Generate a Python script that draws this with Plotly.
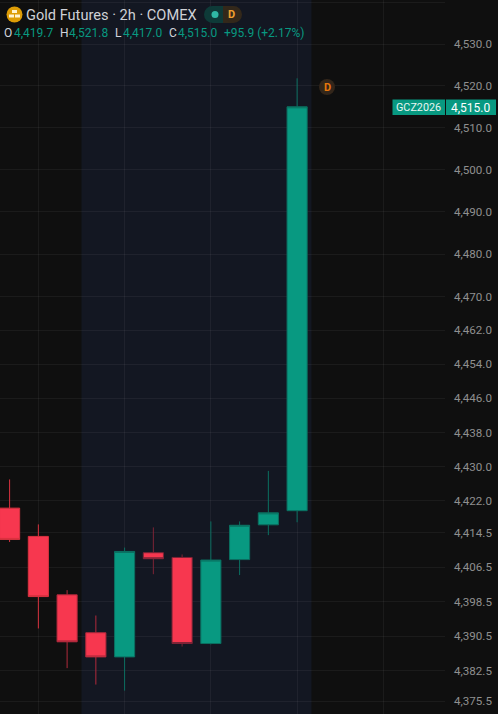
import math
import plotly.graph_objects as go

# ---- data ----
bars = list(range(11))
opens = [4420.3, 4413.7, 4400.1, 4391.3, 4385.7, 4409.9, 4408.8, 4388.8, 4408.3, 4416.4, 4419.7]
highs = [4427.0, 4416.5, 4401.2, 4395.3, 4411.1, 4415.8, 4409.5, 4417.2, 4417.2, 4429.0, 4521.8]
lows = [4412.4, 4392.3, 4383.1, 4379.3, 4377.9, 4404.9, 4388.1, 4388.6, 4404.7, 4414.0, 4417.0]
closes = [4413.0, 4399.7, 4389.2, 4385.7, 4410.2, 4408.5, 4388.8, 4408.2, 4416.3, 4419.2, 4515.0]
tick_values = [4540, 4530, 4520, 4510, 4500, 4490, 4480, 4470, 4462, 4454, 4446, 4438,
               4430, 4422, 4414.5, 4406.5, 4398.5, 4390.5, 4382.5, 4375.5]
tick_labels = ["", "4,530.0", "4,520.0", "4,510.0", "4,500.0", "4,490.0", "4,480.0", "4,470.0",
               "4,462.0", "4,454.0", "4,446.0", "4,438.0", "4,430.0", "4,422.0", "4,414.5",
               "4,406.5", "4,398.5", "4,390.5", "4,382.5", "4,375.5"]
grid_bars = [1, 4, 7, 10, 13]
session_start, session_end = 2.5, 10.5
title_text = "Gold Futures · 2h · COMEX"
symbol_text = "GCZ2026"
price_text = "4,515.0"
ohlc_parts = [("O", "4,419.7", 3.5, 14), ("H", "4,521.8", 59.5, 68.5), ("L", "4,417.0", 115, 122.5), ("C", "4,515.0", 169, 177.5)]
change_text = "+95.9 (+2.17%)"
wick_groups = [([0, 1], "#d8323f"), ([2, 3], "#b02a3c"), ([5, 6], "#7d2436"), ([4, 7, 8, 9, 10], "#0b6f60")]

W, H = 498, 714
PLOT_W = 445
BG = "#0f0f0f"
GREEN = "#089981"
RED = "#F7374F"
FONT = "Roboto"


def px(x):
    return x / PLOT_W


def py(y):
    return 1 - y / H


K = 18933.0
ytop = math.log10(4530) + (44 / K) / math.log(10)
ybot = math.log10(4530) - ((H - 44) / K) / math.log(10)
BAR_PX = 28.75
xleft = -9.6 / BAR_PX
xright = (PLOT_W - 9.6) / BAR_PX

fig = go.Figure()
for idx, color in wick_groups:
    fig.add_trace(go.Candlestick(
        x=[bars[i] for i in idx], open=[opens[i] for i in idx], high=[highs[i] for i in idx],
        low=[lows[i] for i in idx], close=[closes[i] for i in idx],
        increasing=dict(line=dict(color=color, width=1), fillcolor=GREEN),
        decreasing=dict(line=dict(color=color, width=1), fillcolor=RED),
        whiskerwidth=0, showlegend=False, hoverinfo="skip",
    ))

shapes = [dict(type="rect", xref="x", yref="paper", x0=session_start, x1=session_end, y0=0, y1=1,
               fillcolor="#131722", line_width=0, layer="below")]


def rect(x0, y0, x1, y1, color, layer="above"):
    shapes.append(dict(type="rect", xref="paper", yref="paper", x0=px(x0), x1=px(x1),
                       y0=py(y1), y1=py(y0), fillcolor=color, line_width=0, layer=layer))


def circle(cx, cy, r, color):
    shapes.append(dict(type="circle", xref="paper", yref="paper", x0=px(cx - r), x1=px(cx + r),
                       y0=py(cy + r), y1=py(cy - r), fillcolor=color, line_width=0, layer="above"))


circle(14.5, 14.5, 8, "#dd9c06")
rect(12, 10, 17, 13, "#fff3d0")
rect(9, 14.5, 14, 17.5, "#fff3d0")
rect(15, 14.5, 20, 17.5, "#fff3d0")
circle(212.5, 14.5, 8.5, "#0e3a38")
rect(212.5, 6, 223, 23, "#0e3a38")
rect(223, 6, 233.5, 23, "#33281a")
circle(233.5, 14.5, 8.5, "#33281a")
circle(215, 14.5, 3.5, "#2fb8a5")
circle(327, 87, 8, "#33261a")
rect(392.5, 99.5, 445, 115, GREEN)
rect(446, 99.5, 496, 115, GREEN)

annotations = []


def text(x, y, s, color, size, anchor="left", bold=False):
    annotations.append(dict(xref="paper", yref="paper", x=px(x), y=py(y), text=f"<b>{s}</b>" if bold else s,
                            showarrow=False, xanchor=anchor, yanchor="middle",
                            font=dict(family=FONT, size=size, color=color), borderpad=0, borderwidth=0))


text(26, 14.5, title_text, "#cfd1d6", 14.6)
text(231, 14.5, "D", "#f0a030", 11, "center", True)
text(327, 87.5, "D", "#e8780c", 11, "center", True)
text(418.5, 107.5, symbol_text, "#e8f6f3", 10.8, "center")
text(471, 107.5, price_text, "#ffffff", 12, "center")

for (letter, val, xl, xv) in ohlc_parts:
    text(xl, 33, letter, "#d1d4dc", 12)
    text(xv, 33, val, GREEN, 12)
text(224, 33, change_text, GREEN, 12)

fig.update_layout(
    width=W, height=H,
    margin=dict(l=0, r=W - PLOT_W, t=0, b=0, pad=0),
    paper_bgcolor=BG, plot_bgcolor=BG,
    boxgap=0,
    showlegend=False,
    shapes=shapes,
    annotations=annotations,
    xaxis=dict(range=[xleft, xright], type="linear", rangeslider=dict(visible=False),
               tickmode="array", tickvals=grid_bars, showticklabels=False, ticks="",
               showgrid=True, gridcolor="rgba(255,255,255,0.05)", gridwidth=1, zeroline=False, showline=False),
    yaxis=dict(type="log", range=[ybot, ytop], side="right",
               tickmode="array", tickvals=tick_values, ticktext=tick_labels, ticks="",
               ticklabelstandoff=8,
               tickfont=dict(family=FONT, size=11.6, color="#8f8f8f"),
               showgrid=True, gridcolor="rgba(255,255,255,0.05)", gridwidth=1, zeroline=False, showline=False),
)

fig.write_html("out.html", config=dict(displayModeBar=False),
               post_script="document.body.style.margin='0';document.body.style.background='#0f0f0f';")
